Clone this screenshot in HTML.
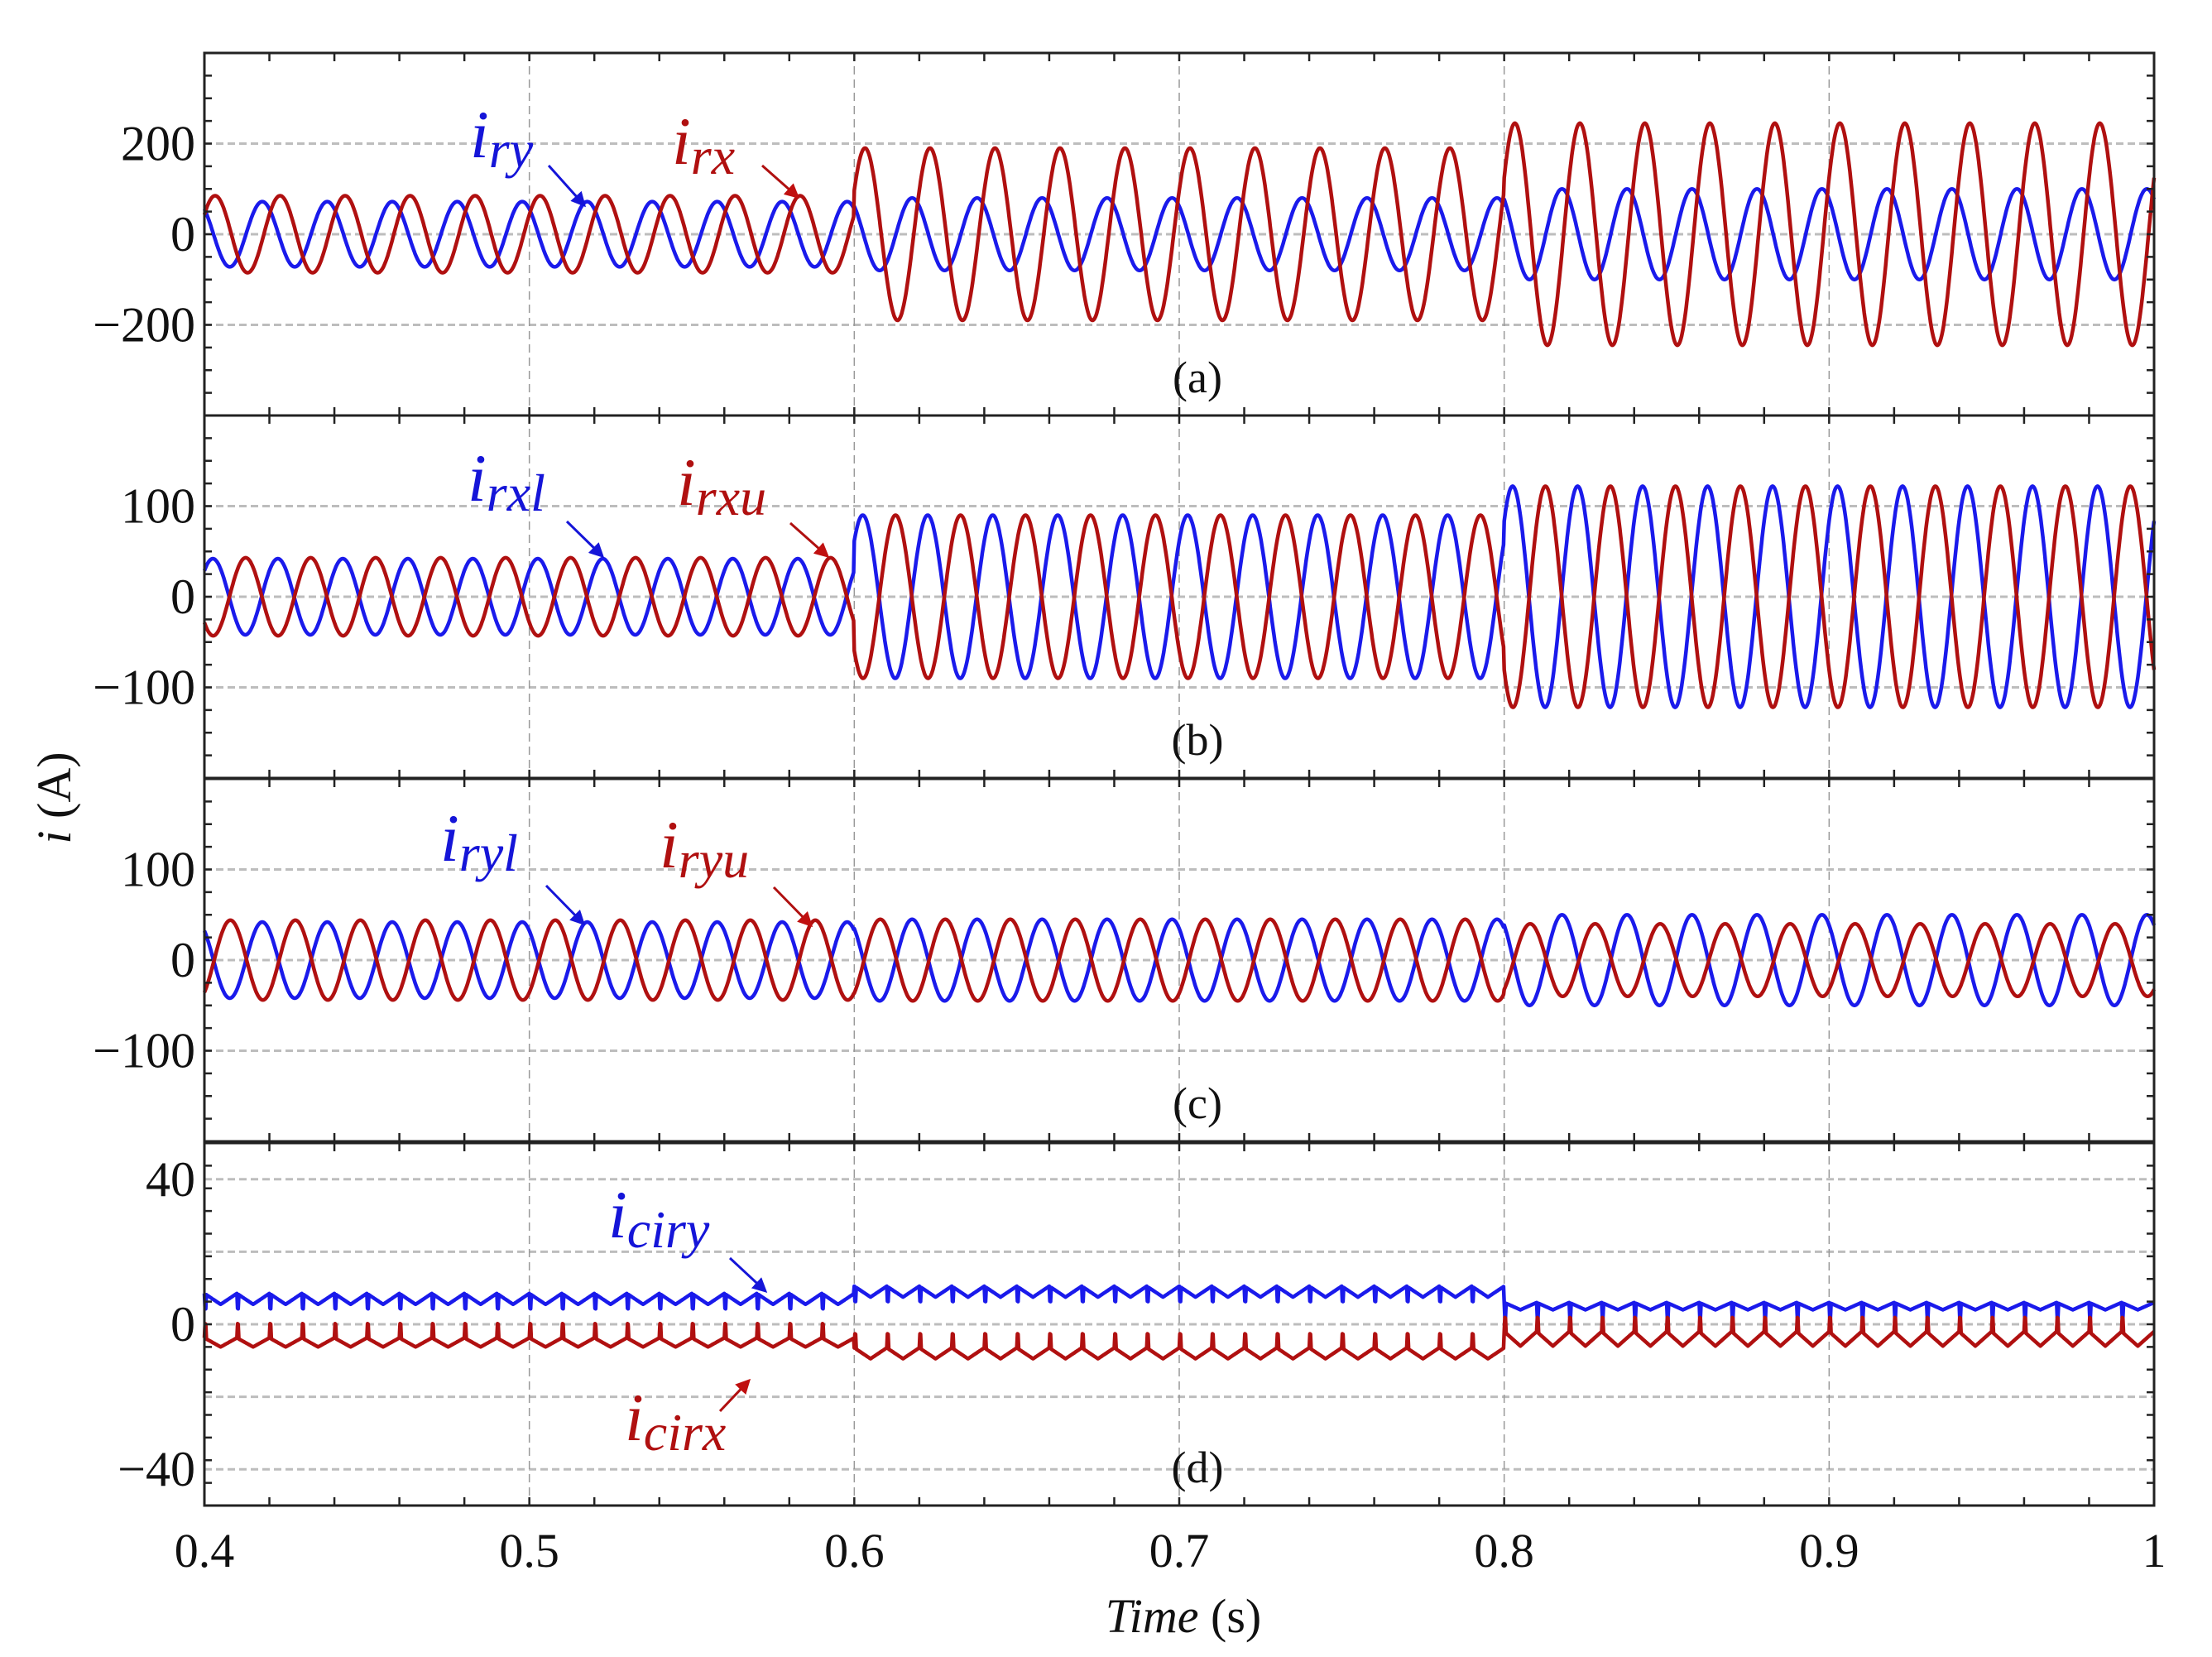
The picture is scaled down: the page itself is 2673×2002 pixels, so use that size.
<!DOCTYPE html>
<html><head><meta charset="utf-8"><style>
html,body{margin:0;padding:0;background:#fff;}
svg{display:block;}
text{font-family:"Liberation Serif",serif;}
</style></head>
<body>
<svg id="chart" width="2673" height="2002" viewBox="0 0 2673 2002" xmlns="http://www.w3.org/2000/svg">
<g id="grid"></g>
<g id="series"></g>
<g id="axes"></g>
<g id="labels"></g>
</svg>
<script>
// ---- data ----
const xTicks = [0.4, 0.5, 0.6, 0.7, 0.8, 0.9, 1.0];
const xTickLabels = ["0.4", "0.5", "0.6", "0.7", "0.8", "0.9", "1"];
const segmentStarts = [0.4, 0.6, 0.8];
const panelRanges = [[-400, 400], [-200, 200], [-200, 200], [-50, 50]];
const panelYTicks = [[-200, 0, 200], [-100, 0, 100], [-100, 0, 100], [-40, 0, 40]];
const panelGrid = [[-200, 0, 200], [-100, 0, 100], [-100, 0, 100], [-40, -20, 0, 20, 40]];
const panelTags = ["(a)", "(b)", "(c)", "(d)"];
const freqHz = 50;
// amplitudes per segment
const irxAmp = [85, 190, 245];
const iryAmp = [72, 80, 100];
const irxlAmp = [42, 90, 122];
const irxuAmp = [43, 90, 122];
const irylAmp = [42, 45, 50];
const iryuAmp = [44, 45, 40];
// peak times (phase reference)
const irxPeak = 0.4033, iryPeak = 0.4178, irxlPeak = 0.4026, irxuPeak = 0.4127, irylPeak = 0.4178, iryuPeak = 0.408;
// circulating currents: offsets and ripple per segment
const iciryOffset = [7, 9, 5];
const iciryRipple = [3, 3, 2];
const icirxOffset = [-5, -8, -4];
const icirxRipple = [2.5, 3, 4];

// ---- layout ----
const X0 = 247, X1 = 2603;
const panelTop = [64, 502, 941, 1381], panelH = 438;
const xs = t => X0 + (t - 0.4) / 0.6 * (X1 - X0);
const ys = (p, v) => panelTop[p] + (panelRanges[p][1] - v) / (panelRanges[p][1] - panelRanges[p][0]) * panelH;
const NS = "http://www.w3.org/2000/svg";
function mk(tag, attrs, parent) { const e = document.createElementNS(NS, tag); for (const k in attrs) e.setAttribute(k, attrs[k]); parent.appendChild(e); return e; }
const G = document.getElementById('grid'), S = document.getElementById('series'), A = document.getElementById('axes'), L = document.getElementById('labels');
const seg = t => t < segmentStarts[1] ? 0 : (t < segmentStarts[2] ? 1 : 2);

// grid
for (let p = 0; p < 4; p++) {
  panelGrid[p].forEach(v => {
    const l = mk('line', {x1: X0, x2: X1, y1: ys(p, v), y2: ys(p, v), stroke: '#bdbdbd', 'stroke-width': 3, 'stroke-dasharray': '9,5'}, G);
    
    
  });
  xTicks.slice(1, -1).forEach(t => {
    const l = mk('line', {x1: xs(t), x2: xs(t), y1: panelTop[p], y2: panelTop[p] + panelH, stroke: '#999', 'stroke-width': 1.5, 'stroke-dasharray': '10,6'}, G);
    
    
  });
}

// series
function wave(p, fn, color, name) {
  let d = '';
  const N = 3000;
  for (let i = 0; i <= N; i++) {
    const t = 0.4 + 0.6 * i / N;
    d += (i ? 'L' : 'M') + xs(t).toFixed(1) + ',' + ys(p, fn(t)).toFixed(1);
  }
  const e = mk('path', {d: d, fill: 'none', stroke: color, 'stroke-width': 4.5, 'stroke-linejoin': 'round'}, S);
  
  
}
const BLUE = '#1a1aeb', RED = '#b01010';
const sinw = (A, pk) => t => A[seg(t)] * Math.cos(2 * Math.PI * freqHz * (t - pk));
wave(0, sinw(iryAmp, iryPeak), BLUE, 'series-iry');
wave(0, sinw(irxAmp, irxPeak), RED, 'series-irx');
wave(1, sinw(irxlAmp, irxlPeak), BLUE, 'series-irxl');
wave(1, sinw(irxuAmp, irxuPeak), RED, 'series-irxu');
wave(2, sinw(irylAmp, irylPeak), BLUE, 'series-iryl');
wave(2, sinw(iryuAmp, iryuPeak), RED, 'series-iryu');
function spiky(off, rip, dir) {
  return t => {
    const s = seg(t);
    const ph = ((t - 0.4) * 100) % 1;
    const spike = ph < 0.06 ? dir * (1 - Math.abs(ph - 0.03) / 0.03) * 6 : 0;
    return off[s] + rip[s] * (Math.abs(ph - 0.5) * 2 - 0.5) + spike;
  };
}
wave(3, spiky(iciryOffset, iciryRipple, -1), BLUE, 'series-iciry');
wave(3, spiky(icirxOffset, icirxRipple, 1), RED, 'series-icirx');

// axes frames + ticks
for (let p = 0; p < 4; p++) {
  const r = mk('rect', {x: X0, y: panelTop[p], width: X1 - X0, height: panelH, fill: 'none', stroke: '#222', 'stroke-width': 3}, A);
  
  
  for (let t = 0.4; t <= 1.0001; t += 0.02) {
    [[panelTop[p], 1], [panelTop[p] + panelH, -1]].forEach(([y, dd]) => {
      const l = mk('line', {x1: xs(t), x2: xs(t), y1: y, y2: y + dd * 10, stroke: '#222', 'stroke-width': 2.5}, A);
      
      
    });
  }
  const [lo, hi] = panelRanges[p];
  const step = (hi - lo) / 16;
  for (let v = lo; v <= hi + 1e-6; v += step) {
    [[X0, 1], [X1, -1]].forEach(([x, dd]) => {
      const l = mk('line', {x1: x, x2: x + dd * 9, y1: ys(p, v), y2: ys(p, v), stroke: '#222', 'stroke-width': 2.5}, A);
      
      
    });
  }
  panelYTicks[p].forEach(v => {
    const tx = mk('text', {x: 236, y: ys(p, v) + 20, 'text-anchor': 'end', 'font-size': 60, fill: '#111'}, L);
    tx.textContent = v < 0 ? '\u2212' + Math.abs(v) : String(v);
    
    
  });
  const tg = mk('text', {x: 1447, y: panelTop[p] + panelH - 28, 'text-anchor': 'middle', 'font-size': 54, fill: '#111'}, L);
  tg.textContent = panelTags[p];
  
  
}
xTicks.forEach((t, i) => {
  const tx = mk('text', {x: xs(t), y: 1893, 'text-anchor': 'middle', 'font-size': 58, fill: '#111'}, L);
  tx.textContent = xTickLabels[i];
  
  
});
</script>
<svg width="2673" height="2002" style="position:absolute;left:0;top:0" xmlns="http://www.w3.org/2000/svg">
<defs>
<marker id="ab2" markerWidth="6" markerHeight="6" refX="5" refY="3" orient="auto"><path d="M0,0 L6,3 L0,6 z" fill="#1515d8"/></marker>
<marker id="ar2" markerWidth="6" markerHeight="6" refX="5" refY="3" orient="auto"><path d="M0,0 L6,3 L0,6 z" fill="#c01010"/></marker>
</defs>
<g font-family="Liberation Serif, serif" font-style="italic">
<text x="568" y="190" font-size="82" fill="#1515d8">i<tspan font-size="64" dy="12">ry</tspan></text>
<line x1="663" y1="200" x2="706" y2="248" stroke="#1515d8" stroke-width="3" marker-end="url(#ab2)"/>
<text x="812" y="198" font-size="82" fill="#b01010">i<tspan font-size="64" dy="12">rx</tspan></text>
<line x1="921" y1="200" x2="964" y2="238" stroke="#b01010" stroke-width="3" marker-end="url(#ar2)"/>
<text x="565" y="605" font-size="82" fill="#1515d8">i<tspan font-size="64" dy="12">rxl</tspan></text>
<line x1="685" y1="630" x2="728" y2="672" stroke="#1515d8" stroke-width="3" marker-end="url(#ab2)"/>
<text x="818" y="610" font-size="82" fill="#b01010">i<tspan font-size="64" dy="12">rxu</tspan></text>
<line x1="955" y1="632" x2="1000" y2="672" stroke="#b01010" stroke-width="3" marker-end="url(#ar2)"/>
<text x="532" y="1040" font-size="82" fill="#1515d8">i<tspan font-size="64" dy="12">ryl</tspan></text>
<line x1="660" y1="1070" x2="705" y2="1116" stroke="#1515d8" stroke-width="3" marker-end="url(#ab2)"/>
<text x="797" y="1048" font-size="82" fill="#b01010">i<tspan font-size="64" dy="12">ryu</tspan></text>
<line x1="935" y1="1072" x2="980" y2="1118" stroke="#b01010" stroke-width="3" marker-end="url(#ar2)"/>
<text x="735" y="1495" font-size="82" fill="#1515d8">i<tspan font-size="64" dy="12">ciry</tspan></text>
<line x1="882" y1="1520" x2="925" y2="1560" stroke="#1515d8" stroke-width="3" marker-end="url(#ab2)"/>
<text x="755" y="1740" font-size="82" fill="#b01010">i<tspan font-size="64" dy="12">cirx</tspan></text>
<line x1="870" y1="1705" x2="905" y2="1668" stroke="#b01010" stroke-width="3" marker-end="url(#ar2)"/>
</g>
<text transform="translate(85,964) rotate(-90)" text-anchor="middle" font-size="58" fill="#111" font-family="Liberation Serif, serif"><tspan font-style="italic">i</tspan> (A)</text>
<text x="1430" y="1972" text-anchor="middle" font-size="58" fill="#111" font-family="Liberation Serif, serif"><tspan font-style="italic">Time</tspan> (s)</text>
</svg>
</body></html>
